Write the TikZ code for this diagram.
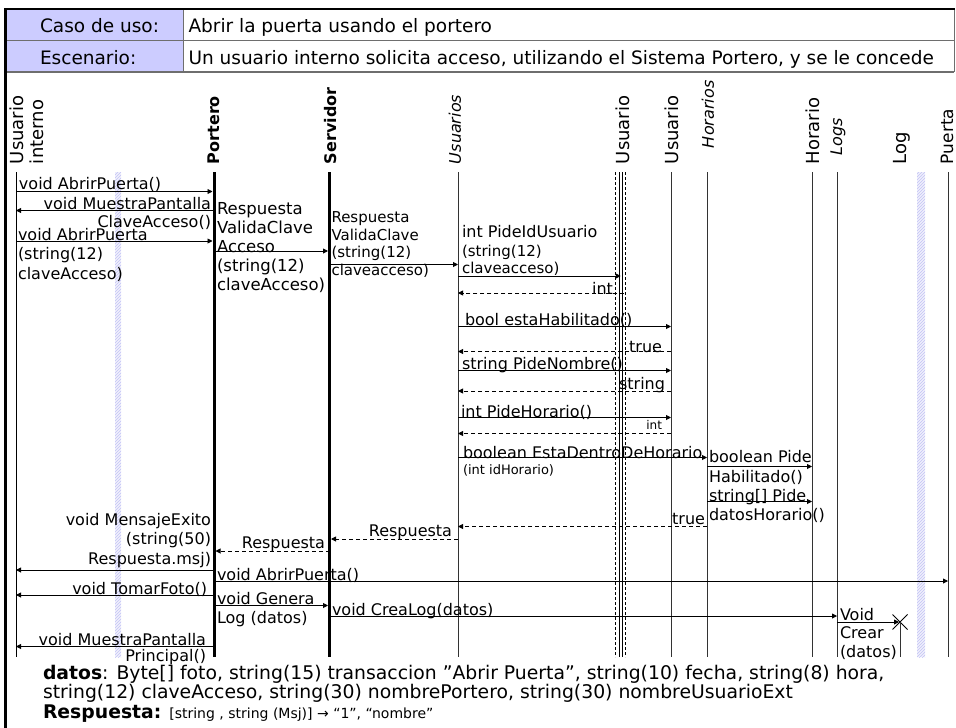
\documentclass[tikz,border=0pt]{standalone}
\usepackage{fontspec}
\setmainfont{DejaVu Sans}
\usetikzlibrary{arrows.meta,patterns,shapes.misc}
\definecolor{cellfill}{RGB}{204,204,255}
\definecolor{rulegray}{RGB}{110,110,110}
\definecolor{stripe}{RGB}{195,195,245}
\newcommand\fHead{\fontsize{18.5}{21}\selectfont}
\newcommand\fNote{\fontsize{18.8}{21}\selectfont}
\newcommand\fLife{\fontsize{18}{20}\selectfont}
\newcommand\fMsg{\fontsize{16}{19.5}\selectfont}
\newcommand\fMid{\fontsize{15}{17.5}\selectfont}
\newcommand\fSmall{\fontsize{13}{15}\selectfont}
\newcommand\fTiny{\fontsize{12}{14}\selectfont}
\begin{document}
\begin{tikzpicture}[x=1pt,y=-1pt,
  every node/.style={inner sep=0pt, outer sep=0pt},
  lifeline/.style={line width=1pt, black!80},
  mainline/.style={line width=3pt, black},
  msg/.style={line width=0.9pt, -{Triangle[length=5pt,width=5pt]}},
  ret/.style={msg, dash pattern=on 4pt off 3pt},
  tothick/.style={shorten >=1.5pt},
  lbl/.style={font=\fMsg, align=left},
  lblr/.style={font=\fMsg, align=right},
  head/.style={rotate=90, anchor=west, align=left},
  hatchbar/.style={fill=stripe!25, postaction={pattern=north east lines, pattern color=stripe}},
]
\useasboundingbox (0,0) rectangle (956,728);

% ---------- header table ----------
\fill[cellfill] (5,9) rectangle (183,72);
\draw[rulegray, line width=1pt] (5,40.5) -- (954,40.5);
\draw[rulegray, line width=1.5pt] (5,72) -- (954,72);
\draw[rulegray, line width=1pt] (183,9) -- (183,72);
\draw[rulegray, line width=1pt] (954,9) -- (954,72);
\draw[line width=2.5pt] (4,9) -- (955,9);
\draw[line width=3pt] (5,9) -- (5,728);

\node[font=\fHead, anchor=north west] (caso) at (40,18.5) {Caso de uso:};
\node[font=\fHead, anchor=north west] (casotxt) at (188.5,18.5) {Abrir la puerta usando el portero};
\node[font=\fHead, anchor=north west] (esc) at (40,50.5) {Escenario:};
\node[font=\fHead, anchor=north west] (esctxt) at (188.5,50.5) {Un usuario interno solicita acceso, utilizando el Sistema Portero, y se le concede};

% ---------- decorative hatched bars ----------
\path[hatchbar] (115,172) rectangle (121,657);
\path[hatchbar] (917,172) rectangle (925,657);

% ---------- lifelines ----------
\coordinate (ui)  at (16,172);    \coordinate (uiB)  at (16,657);
\coordinate (po)  at (214,172);   \coordinate (poB)  at (214,657);
\coordinate (se)  at (329.5,172); \coordinate (seB)  at (329.5,657);
\coordinate (us)  at (458,172);   \coordinate (usB)  at (458,657);
\coordinate (u1)  at (620.75,172);\coordinate (u1B)  at (620.75,657);
\coordinate (u2)  at (671,172);   \coordinate (u2B)  at (671,657);
\coordinate (hs)  at (707,172);   \coordinate (hsB)  at (707,657);
\coordinate (hr)  at (812,172);   \coordinate (hrB)  at (812,657);
\coordinate (lgs) at (837,172);   \coordinate (lgsB) at (837,657);
\coordinate (pu)  at (948,172);   \coordinate (puB)  at (948,657);
\coordinate (lgB) at (900,657);

\draw[line width=1pt] (ui) -- (uiB);
\draw[mainline] (po) -- (poB);
\draw[mainline] (se) -- (seB);
\draw[lifeline] (us) -- (usB);
\draw[line width=0.8pt] ([xshift=-1.25pt]u1) -- ([xshift=-1.25pt]u1B);
\draw[line width=0.8pt] ([xshift=1.25pt]u1) -- ([xshift=1.25pt]u1B);
\draw[line width=0.8pt, dash pattern=on 3pt off 2pt] ([xshift=-5.25pt]u1) -- ([xshift=-5.25pt]u1B);
\draw[line width=0.8pt, dash pattern=on 3pt off 2pt] ([xshift=4.5pt]u1) -- ([xshift=4.5pt]u1B);
\draw[lifeline] (u2) -- (u2B);
\draw[lifeline] (hs) -- (hsB);
\draw[lifeline] (hr) -- (hrB);
\draw[lifeline] (lgs) -- (lgsB);
\draw[lifeline] (pu) -- (puB);

% ---------- lifeline heads ----------
\node[head, font=\fLife] (hUI) at (27,164) {Usuario\\interno};
\node[head, font=\fMsg\bfseries] (hPO) at (214,164) {Portero};
\node[head, font=\fMsg\bfseries] (hSE) at (331,164) {Servidor};
\node[head, font=\fMsg\itshape] (hUS) at (455,164) {Usuarios};
\node[head, font=\fLife] (hU1) at (623,164) {Usuario};
\node[head, font=\fLife] (hU2) at (672,164) {Usuario};
\node[head, font=\fMsg\itshape] (hHS) at (708,148) {Horarios};
\node[head, font=\fLife] (hHR) at (813,164) {Horario};
\node[head, font=\fMsg\itshape] (hLS) at (838,155) {Logs};
\node[head, font=\fLife] (hLG) at (902,164) {Log};
\node[head, font=\fontsize{17}{20}\selectfont] (hPU) at (947,164) {Puerta};

% ---------- message rows ----------
\coordinate (r1)  at (0,191.5);
\coordinate (r2)  at (0,210.5);
\coordinate (r3)  at (0,241);
\coordinate (r4)  at (0,251);
\coordinate (r5)  at (0,264.5);
\coordinate (r6)  at (0,276);
\coordinate (r7)  at (0,293);
\coordinate (r8)  at (0,326.5);
\coordinate (r9)  at (0,351.5);
\coordinate (r10) at (0,370.5);
\coordinate (r11) at (0,391);
\coordinate (r12) at (0,417.5);
\coordinate (r13) at (0,433.5);
\coordinate (r14) at (0,457.5);
\coordinate (r15) at (0,466.5);
\coordinate (r16) at (0,501.5);
\coordinate (r17) at (0,526.5);
\coordinate (r18) at (0,539);
\coordinate (r19) at (0,551);
\coordinate (r20) at (0,570);
\coordinate (r21) at (0,581);
\coordinate (r22) at (0,595);
\coordinate (r23) at (0,605.5);
\coordinate (r24) at (0,616);
\coordinate (r25) at (0,622);
\coordinate (r26) at (0,646.5);

% ---------- destruction mark of Log ----------
\node[cross out, draw, line width=0.8pt, minimum size=15pt] (lgX) at (900,622) {};
\draw[lifeline] (lgX.center) -- (lgB);

% ---------- messages ----------
\draw[msg, tothick] (ui |- r1) -- (po |- r1);
\draw[msg] (po |- r2) -- (ui |- r2);
\draw[msg, tothick] (ui |- r3) -- (po |- r3);
\draw[msg, tothick] (po |- r4) -- (se |- r4);
\draw[msg] (se |- r5) -- (us |- r5);
\draw[msg] (us |- r6) -- (u1 |- r6);
\draw[ret] ([xshift=3.5pt]u1 |- r7) -- (us |- r7);
\draw[msg] (us |- r8) -- (u2 |- r8);
\draw[ret] (u2 |- r9) -- (us |- r9);
\draw[msg] (us |- r10) -- (u2 |- r10);
\draw[ret] (u2 |- r11) -- (us |- r11);
\draw[msg] (us |- r12) -- (u2 |- r12);
\draw[ret] (u2 |- r13) -- (us |- r13);
\draw[msg] (us |- r14) -- (hs |- r14);
\draw[msg] (hs |- r15) -- (hr |- r15);
\draw[msg] (hs |- r16) -- (hr |- r16);
\draw[ret] (hs |- r17) -- (us |- r17);
\draw[ret, tothick] (us |- r18) -- (se |- r18);
\draw[ret, tothick] (se |- r19) -- (po |- r19);
\draw[msg] (po |- r20) -- (ui |- r20);
\draw[msg] (po |- r21) -- (pu |- r21);
\draw[msg] (po |- r22) -- (ui |- r22);
\draw[msg, tothick] (po |- r23) -- (se |- r23);
\draw[msg] (se |- r24) -- (lgs |- r24);
\draw[msg, shorten >=1pt] (lgs |- r25) -- (lgX.center);
\draw[msg] (po |- r26) -- (ui |- r26);

% ---------- message labels ----------
\node[lbl, anchor=north west] (t1) at (19,177) {void AbrirPuerta()};
\node[lblr, anchor=north east] (t2) at (211,197) {void MuestraPantalla};
\node[lblr, anchor=north east] (t3) at (211,215) {ClaveAcceso()};
\node[lbl, anchor=north west] (t4) at (18,228) {void AbrirPuerta\\(string(12)\\claveAcceso)};
\node[anchor=north west, align=left, font=\fontsize{16.5}{19}\selectfont] (t5) at (217,202)
  {Respuesta\\ValidaClave\\Acceso\\(string(12)\\claveAcceso)};
\node[anchor=north west, align=left, font=\fMid] (t6) at (331.5,212)
  {Respuesta\\ValidaClave\\(string(12)\\claveacceso)};
\node[lbl, anchor=north west] (t7) at (462,225) {int PideIdUsuario};
\node[anchor=north west, align=left, font=\fMid] (t8) at (462,245) {(string(12)\\claveacceso)};
\node[lblr, anchor=north east] (t9) at (613,282) {int};
\node[lbl, anchor=north west] (t10) at (465,313.5) {bool estaHabilitado()};
\node[lblr, anchor=north east] (t11) at (662,341) {true};
\node[lbl, anchor=north west] (t12) at (462,357) {string PideNombre()};
\node[lblr, anchor=north east] (t13) at (665,377) {string};
\node[lbl, anchor=north west] (t14) at (461,405) {int PideHorario()};
\node[anchor=north east, font=\fTiny] (t15) at (662,420) {int};
\node[lbl, anchor=north west] (t16) at (463,446) {boolean EstaDentroDeHorario};
\node[anchor=north west, font=\fSmall] (t17) at (463,465) {(int idHorario)};
\node[lbl, anchor=north west] (t18) at (709,450) {boolean Pide};
\node[lbl, anchor=north west] (t19) at (709,470) {Habilitado()};
\node[lbl, anchor=north west] (t20) at (709,489.5) {string[] Pide};
\node[lbl, anchor=north west] (t21) at (709,508) {datosHorario()};
\node[lblr, anchor=north east] (t22) at (705,513) {true};
\node[lblr, anchor=north east] (t23) at (452,525) {Respuesta};
\node[lblr, anchor=north east] (t24) at (325,537) {Respuesta};
\node[lblr, anchor=north east] (t25) at (211,513) {void MensajeExito\\(string(50)\\Respuesta.msj)};
\node[lbl, anchor=north west] (t26) at (217,568) {void AbrirPuerta()};
\node[lblr, anchor=north east] (t27) at (207,582) {void TomarFoto()};
\node[lbl, anchor=north west] (t28) at (217,592) {void Genera};
\node[lbl, anchor=north west] (t29) at (217,611) {Log (datos)};
\node[lbl, anchor=north west] (t30) at (332,603) {void CreaLog(datos)};
\node[anchor=north west, align=left, font=\fontsize{16}{18.5}\selectfont] (t31) at (840,608) {Void\\Crear\\(datos)};
\node[lblr, anchor=north east] (t32) at (206,633) {void MuestraPantalla};
\node[lblr, anchor=north east] (t33) at (206,649) {Principal()};

% ---------- notes ----------
\node[anchor=north west, font=\fNote] (f1) at (43,665)
  {\textbf{datos}: Byte[] foto, string(15) transaccion ”Abrir Puerta”, string(10) fecha, string(8) hora,};
\node[anchor=north west, font=\fNote] (f2) at (43,684)
  {string(12) claveAcceso, string(30) nombrePortero, string(30) nombreUsuarioExt};
\node[anchor=north west, font=\fNote] (f3) at (43,704.5)
  {\textbf{Respuesta:} {\fontsize{14}{17}\selectfont [string , string (Msj)] → “1”, “nombre”}};
\end{tikzpicture}
\end{document}
